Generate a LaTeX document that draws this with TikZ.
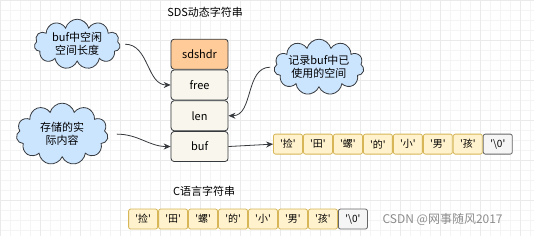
\documentclass[tikz,border=0pt]{standalone}
\usepackage{fontspec}
\usepackage{xcolor}
\usetikzlibrary{arrows.meta,positioning,shapes.symbols}
\newfontfamily\cjk{Noto Sans CJK SC}
\definecolor{hdrfill}{HTML}{FFCC99}
\definecolor{fieldfill}{HTML}{F9F7ED}
\definecolor{edge}{HTML}{36393D}
\definecolor{cellfill}{HTML}{FFF2CC}
\definecolor{celledge}{HTML}{D6B656}
\definecolor{nulfill}{HTML}{F5F5F5}
\definecolor{nuledge}{HTML}{666666}
\definecolor{sky}{HTML}{CCE5FF}
\definecolor{gridminor}{HTML}{F4F4F4}
\definecolor{gridmajor}{HTML}{EAEAEA}

\begin{document}
\begin{tikzpicture}[x=1pt,y=-1pt,>={Stealth[length=7pt,width=6pt]},
    font=\cjk\fontsize{11}{13}\selectfont,line width=0.8pt,
    field/.style={draw=edge,rounded corners=3pt,fill=fieldfill,
                  minimum width=57pt,minimum height=30pt,inner sep=0pt},
    puff/.style={cloud,cloud puffs=11,cloud ignores aspect,draw=edge,fill=sky,
                 align=center,inner sep=0pt},
    cell/.style={draw=celledge,fill=cellfill,rounded corners=2pt,
                 minimum width=29pt,minimum height=20pt,inner sep=0pt,
                 font=\cjk\fontsize{10}{12}\selectfont},
    nul/.style={cell,draw=nuledge,fill=nulfill},
    link/.style={->,edge}]
    \fill[white] (0,0) rectangle (534,236);
    \draw[gridminor,line width=0.5pt,step=10pt] (0,0) grid (534,236);
    \draw[gridmajor,line width=0.5pt,step=40pt] (0,0) grid (534,236);
    \useasboundingbox (0,0) rectangle (534,236);

    \node (sdstitle) at (205,12) {SDS动态字符串};
    \node[field,fill=hdrfill] (hdr) at (199.5,54) {sdshdr};
    \node[field,below=0pt of hdr] (free) {free};
    \node[field,below=0pt of free] (len) {len};
    \node[field,below=0pt of len] (buf) {buf};

    \node[puff,minimum width=86pt,minimum height=50pt] (gap) at (77,44)
        {buf中空闲\\空间长度};
    \node[puff,minimum width=92pt,minimum height=62pt] (store) at (62,134)
        {存储的实\\际内容};
    \node[puff,minimum width=90pt,minimum height=56pt] (used) at (319,67)
        {记录buf中已\\使用的空间};

    \foreach \ch [count=\i] in {捡,田,螺,的,小,男,孩}
        \node[cell] (s\i) at ({258+30*\i},144) {'\ch'};
    \node[nul] (s8) at (498,144) {'\textbackslash0'};

    \node (ctitle) at (204,191) {C语言字符串};
    \foreach \ch [count=\i] in {捡,田,螺,的,小,男,孩}
        \node[cell] (c\i) at ({113+30*\i},219) {'\ch'};
    \node[nul] (c8) at (353,219) {'\textbackslash0'};

    \node[text=black!45,font=\cjk\fontsize{12}{14}\selectfont,anchor=west]
        (mark) at (379,219) {CSDN @网事随风2017};

    \draw[link] ([xshift=5pt]gap.east) to[out=0,in=180] (free.west);
    \draw[link] ([xshift=9pt]store.east) to[out=0,in=180] (buf.west);
    \draw[link] ([xshift=-4pt]used.west) to[out=180,in=0] (len.east);
    \draw[link] (buf.east) -- (s1.west);
\end{tikzpicture}
\end{document}
